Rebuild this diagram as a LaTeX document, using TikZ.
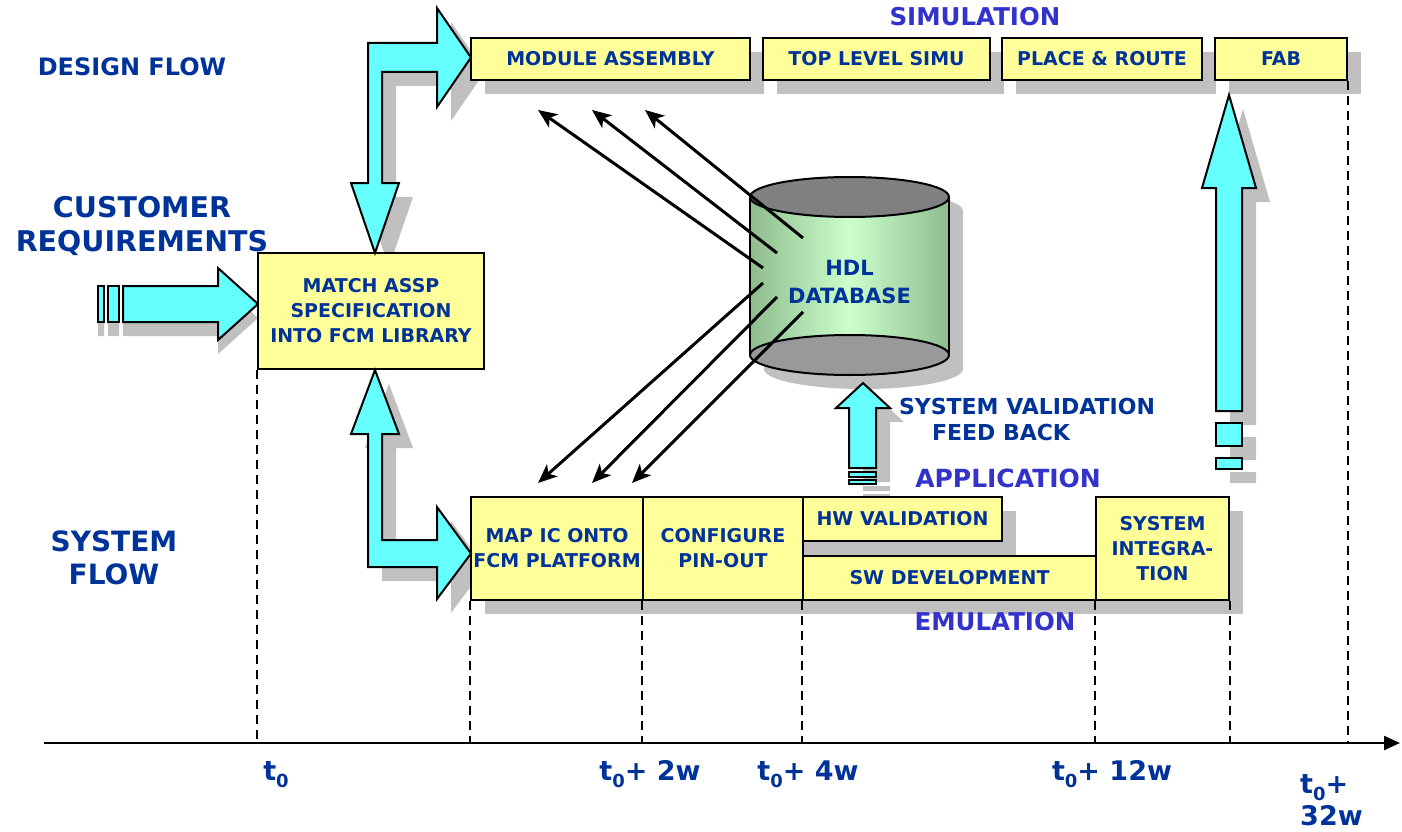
\documentclass[tikz,border=0pt]{standalone}
\usepackage{fontspec}
\setmainfont{DejaVu Sans}
\usetikzlibrary{arrows.meta,shadows}

\definecolor{boxyellow}{HTML}{FFFF99}
\definecolor{arrowcyan}{HTML}{66FFFF}
\definecolor{shadowc}{HTML}{C0C0C0}
\definecolor{dblue}{HTML}{003399}
\definecolor{lblue}{HTML}{3333CC}
\definecolor{cyledge}{HTML}{8FBC8F}
\definecolor{cylmid}{HTML}{CCFFCC}
\definecolor{captop}{HTML}{808080}
\definecolor{capbot}{HTML}{999999}

\newcommand\fsz[2]{\fontsize{#1}{#2}\selectfont}
\newcommand\tz{t\raisebox{-7pt}{\fsz{18}{18}0}}

% outlines of the block arrows
\def\toparrowpath{(375,253) -- (399,183) -- (382,183) -- (382,72) -- (437,72) -- (437,107) -- (471,57.5) -- (437,8) -- (437,43) -- (368,43) -- (368,183) -- (351,183) -- cycle}
\def\botarrowpath{(375,370) -- (399,434) -- (382,434) -- (382,540) -- (437,540) -- (437,507) -- (471,553.5) -- (437,599) -- (437,567) -- (368,567) -- (368,434) -- (351,434) -- cycle}
\def\inarrowpath{(123,286) -- (218,286) -- (218,268) -- (258,304) -- (218,340) -- (218,322) -- (123,322) -- cycle}
\def\inbarsA{(98,286) rectangle (104,322)}
\def\inbarsB{(108,286) rectangle (119,322)}
\def\fbarrowpath{(863,383) -- (890,408) -- (876,408) -- (876,468) -- (849,468) -- (849,408) -- (836,408) -- cycle}
\def\fbbarsA{(849,472) rectangle (876,477)}
\def\fbbarsB{(849,480) rectangle (876,484)}
\def\fabarrowpath{(1229,95) -- (1256,188) -- (1242,188) -- (1242,411) -- (1216,411) -- (1216,188) -- (1202,188) -- cycle}
\def\fabbarsA{(1216,423) rectangle (1242,446)}
\def\fabbarsB{(1216,458) rectangle (1242,469)}

\begin{document}
\begin{tikzpicture}[x=1pt,y=-1pt,
  sh/.style={drop shadow={shadow xshift=14pt,shadow yshift=-14pt,fill=shadowc,opacity=1}},
  plainbox/.style={draw=black,fill=boxyellow,line width=2pt,inner sep=0pt,
    align=center,text=dblue,font={\bfseries\fsz{19}{25}}},
  ybox/.style={plainbox,sh},
  blockarrow/.style={fill=arrowcyan,draw=black,line width=2pt,line join=miter},
  lbl/.style={inner sep=0pt,align=center,text=dblue},
  phase/.style={inner sep=0pt,align=center,text=lblue},
  conn/.style={line width=3pt,-{Stealth[length=19pt,width=16pt,inset=5pt]}},
  dashline/.style={line width=1.6pt,dash pattern=on 9pt off 6pt},
  tlbl/.style={inner sep=0pt,text=dblue,font={\bfseries\fsz{27}{27}}}]

\fill[white] (0,0) rectangle (1402,832);
\useasboundingbox (0,0) rectangle (1402,832);

% ---- shadows of the block arrows and of the database
\begin{scope}[shift={(14,14)}]
  \fill[shadowc] \toparrowpath;
  \fill[shadowc] \botarrowpath;
  \fill[shadowc] \fbarrowpath \fbbarsA \fbbarsB;
  \fill[shadowc] \fabarrowpath \fabbarsA \fabbarsB;
  \fill[shadowc] (750,197) rectangle (949,355);
  \fill[shadowc] (849.5,197) ellipse [x radius=99.5, y radius=20];
  \fill[shadowc] (849.5,355) ellipse [x radius=99.5, y radius=20];
\end{scope}
\begin{scope}[shift={(0,14)}]
  \fill[shadowc] \inarrowpath \inbarsA \inbarsB;
\end{scope}

% ---- design flow boxes
\node[ybox,minimum width=279,minimum height=42] (mod) at (610.5,59) {MODULE ASSEMBLY};
\node[ybox,minimum width=227,minimum height=42] (top) at (876.5,59) {TOP LEVEL SIMU};
\node[ybox,minimum width=200,minimum height=42] (par) at (1102,59) {PLACE \& ROUTE};
\node[ybox,minimum width=132,minimum height=42] (fab) at (1281,59) {FAB};

% ---- specification box
\node[plainbox,minimum width=226,minimum height=116] (match) at (371,311)
  {MATCH ASSP\\SPECIFICATION\\INTO FCM LIBRARY};

% ---- system flow boxes
\node[ybox,minimum width=172,minimum height=103] (map) at (557,548.5) {MAP IC ONTO\\FCM PLATFORM};
\node[ybox,minimum width=160,minimum height=103] (cfg) at (723,548.5) {CONFIGURE\\PIN-OUT};
\node[ybox,minimum width=199,minimum height=44] (hw) at (902.5,519) {HW VALIDATION};
\node[ybox,minimum width=293,minimum height=44] (sw) at (949.5,578) {SW DEVELOPMENT};
\node[ybox,minimum width=133,minimum height=103] (sys) at (1162.5,548.5) {SYSTEM\\INTEGRA-\\TION};

% ---- time axis and milestone lines
\coordinate (ax0) at (44,743);
\coordinate (ax1) at (1400,743);
\foreach \b in {match.south west,map.south west,cfg.south west,sw.south west,sys.south west,sys.south east,fab.south east}
  \draw[dashline] (\b) -- (\b |- ax0);
\draw[line width=2.4pt,-{Triangle[length=16pt,width=14pt]}] (ax0) -- (ax1);

% ---- block arrows
\draw[blockarrow] \toparrowpath;
\draw[blockarrow] \botarrowpath;
\draw[blockarrow] \inarrowpath;
\draw[blockarrow] \inbarsA;
\draw[blockarrow] \inbarsB;
\draw[blockarrow] \fbarrowpath;
\draw[blockarrow] \fbbarsA;
\draw[blockarrow] \fbbarsB;
\draw[blockarrow] \fabarrowpath;
\draw[blockarrow] \fabbarsA;
\draw[blockarrow] \fabbarsB;

% ---- HDL database cylinder
\shade[left color=cyledge,right color=cyledge,middle color=cylmid] (750,197) rectangle (949,355);
\filldraw[fill=capbot,line width=2pt] (849.5,355) ellipse [x radius=99.5, y radius=20];
\draw[line width=2pt] (750,197) -- (750,355) (949,197) -- (949,355);
\filldraw[fill=captop,line width=2pt] (849.5,197) ellipse [x radius=99.5, y radius=20];
\node[lbl,font={\bfseries\fsz{21}{28}}] (db) at (849.5,282) {HDL\\DATABASE};

% ---- exchanges between the database and the two flows
\coordinate (db1) at (763,268);
\coordinate (db2) at (777,253);
\coordinate (db3) at (803,238);
\coordinate (db4) at (763,283);
\coordinate (db5) at (777,297);
\coordinate (db6) at (803,312);
\coordinate (m1) at (538,110);
\coordinate (m2) at (592,110);
\coordinate (m3) at (645,110);
\coordinate (p1) at (538,483);
\coordinate (p2) at (592,483);
\coordinate (p3) at (632,483);
\draw[conn] (db1) -- (m1);
\draw[conn] (db2) -- (m2);
\draw[conn] (db3) -- (m3);
\draw[conn] (db4) -- (p1);
\draw[conn] (db5) -- (p2);
\draw[conn] (db6) -- (p3);

% ---- labels
\node[lbl,font={\bfseries\fsz{24}{28}}] (design) at (132,67) {DESIGN FLOW};
\node[lbl,font={\bfseries\fsz{28.5}{34}}] (cust) at (142,226) {CUSTOMER\\REQUIREMENTS};
\node[lbl,font={\bfseries\fsz{28}{33}}] (sysflow) at (114,557.5) {SYSTEM\\FLOW};
\node[phase,font={\bfseries\fsz{24.5}{28}}] (simu) at (975,17) {SIMULATION};
\node[lbl,font={\bfseries\fsz{22}{26}}] (val1) at (1027,406) {SYSTEM VALIDATION};
\node[lbl,font={\bfseries\fsz{22}{26}}] (val2) at (1001,432) {FEED BACK};
\node[phase,font={\bfseries\fsz{25}{28}}] (appl) at (1008,478) {APPLICATION};
\node[phase,font={\bfseries\fsz{24.5}{28}}] (emul) at (995,622) {EMULATION};

% ---- time labels
\node[tlbl,anchor=base] (tA) at (276,780) {\tz};
\node[tlbl,anchor=base] (tB) at (650,780) {\tz+ 2w};
\node[tlbl,anchor=base] (tC) at (808,780) {\tz+ 4w};
\node[tlbl,anchor=base] (tD) at (1112,780) {\tz+ 12w};
\node[tlbl,anchor=base west] (tE) at (1300,793) {\tz+};
\node[tlbl,anchor=base west] (tF) at (1300,825) {32w};
\end{tikzpicture}
\end{document}
